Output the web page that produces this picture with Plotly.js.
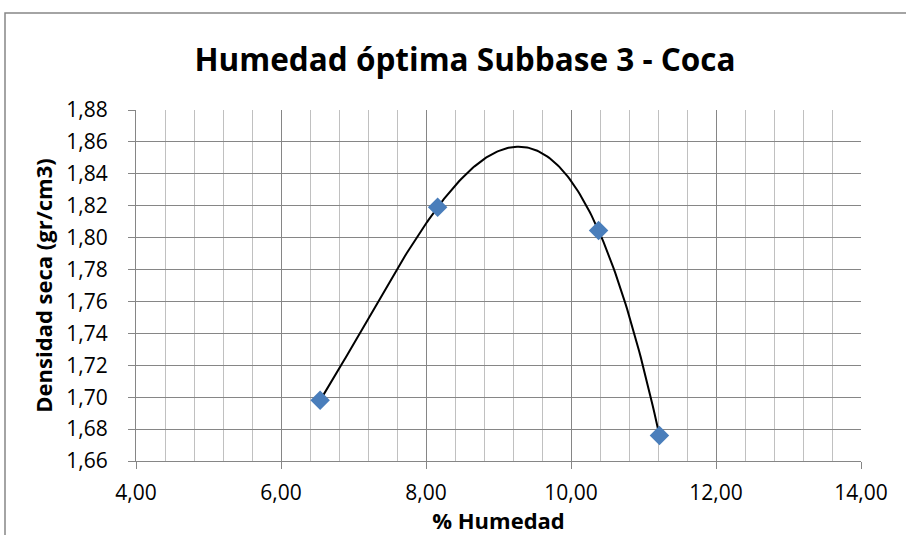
<!DOCTYPE html>
<html>
<head>
<meta charset="utf-8">
<script src="https://cdn.plot.ly/plotly-3.0.1.min.js"></script>
<style>
html,body{margin:0;padding:0;background:#fff;}
#chart{width:906px;height:535px;}
</style>
</head>
<body>
<div id="chart"></div>
<script>
// Data
const humedad = [6.54, 8.16, 10.38, 11.22];          // % Humedad
const densidad = [1.698, 1.819, 1.8045, 1.676];      // Densidad seca (gr/cm3)
const xTickVals = [4, 6, 8, 10, 12, 14];
const yTickVals = [1.66, 1.68, 1.70, 1.72, 1.74, 1.76, 1.78, 1.80, 1.82, 1.84, 1.86, 1.88];

// Polynomial (order 3) trendline through the measured points, as in the source spreadsheet
function polyFit(xs, ys, deg) {
  const n = deg + 1;
  const A = [], b = [];
  for (let i = 0; i < n; i++) {
    A.push(new Array(n).fill(0)); b.push(0);
  }
  for (let k = 0; k < xs.length; k++) {
    for (let i = 0; i < n; i++) {
      for (let j = 0; j < n; j++) A[i][j] += Math.pow(xs[k], i + j);
      b[i] += ys[k] * Math.pow(xs[k], i);
    }
  }
  for (let i = 0; i < n; i++) {
    let p = i;
    for (let r = i + 1; r < n; r++) if (Math.abs(A[r][i]) > Math.abs(A[p][i])) p = r;
    [A[i], A[p]] = [A[p], A[i]]; [b[i], b[p]] = [b[p], b[i]];
    for (let r = i + 1; r < n; r++) {
      const f = A[r][i] / A[i][i];
      for (let c = i; c < n; c++) A[r][c] -= f * A[i][c];
      b[r] -= f * b[i];
    }
  }
  const coef = new Array(n).fill(0);
  for (let i = n - 1; i >= 0; i--) {
    let s = b[i];
    for (let c = i + 1; c < n; c++) s -= A[i][c] * coef[c];
    coef[i] = s / A[i][i];
  }
  return coef;
}
const coef = polyFit(humedad, densidad, 3);
const trendX = [], trendY = [];
const x0 = Math.min(...humedad), x1 = Math.max(...humedad);
for (let i = 0; i <= 200; i++) {
  const x = x0 + (x1 - x0) * i / 200;
  trendX.push(x);
  trendY.push(coef.reduce((s, c, k) => s + c * Math.pow(x, k), 0));
}

const FONT = "'Open Sans', Carlito, Calibri, Lato, sans-serif";

const traces = [
  {
    x: trendX, y: trendY, type: 'scatter', mode: 'lines',
    line: {color: '#000000', width: 2}, hoverinfo: 'skip', showlegend: false
  },
  {
    x: humedad, y: densidad, type: 'scatter', mode: 'markers',
    marker: {symbol: 'diamond', size: 15, color: '#4A7EBB', line: {width: 0}},
    showlegend: false
  }
];

const layout = {
  width: 906, height: 535,
  margin: {l: 136, r: 45, t: 110, b: 74, pad: 0},
  paper_bgcolor: '#ffffff', plot_bgcolor: '#ffffff',
  separators: ',.',
  font: {family: FONT, color: '#000000', size: 21},
  title: {
    text: '<b>Humedad óptima Subbase 3 - Coca</b>',
    font: {family: FONT, size: 31.5, color: '#000000'},
    x: 465 / 906, xref: 'container', xanchor: 'center',
    y: 1 - 60 / 535, yref: 'container', yanchor: 'middle'
  },
  xaxis: {
    range: [4, 14], tickvals: xTickVals, tickformat: '.2f',
    showgrid: true, gridcolor: '#868686', gridwidth: 1,
    minor: {dtick: 0.4, tick0: 4, showgrid: true, gridcolor: '#C0C0C0', gridwidth: 1},
    showline: true, linecolor: '#868686', linewidth: 1,
    ticks: 'outside', ticklen: 7, tickcolor: '#868686',
    ticklabelstandoff: 6,
    zeroline: false, tickfont: {family: FONT, size: 21},
    title: {text: '<b>% Humedad</b>', font: {family: FONT, size: 22}, standoff: 0}
  },
  yaxis: {
    range: [1.66, 1.88], tickvals: yTickVals, tickformat: '.2f',
    showgrid: true, gridcolor: '#868686', gridwidth: 1,
    showline: true, linecolor: '#868686', linewidth: 1,
    ticks: 'outside', ticklen: 7, tickcolor: '#868686',
    ticklabelstandoff: 16,
    zeroline: false, tickfont: {family: FONT, size: 21},
    title: {text: '<b>Densidad seca (gr/cm3)</b>', font: {family: FONT, size: 22}, standoff: 7}
  },
  shapes: [{
    type: 'rect', xref: 'paper', yref: 'paper',
    x0: (5 - 136) / 725, x1: 1.5, y0: -0.5, y1: (460.7 - 13) / 350.7,
    line: {color: '#868686', width: 1.5}, fillcolor: 'rgba(0,0,0,0)', layer: 'below'
  }]
};

Plotly.newPlot('chart', traces, layout, {displayModeBar: false, staticPlot: true});
</script>
</body>
</html>
